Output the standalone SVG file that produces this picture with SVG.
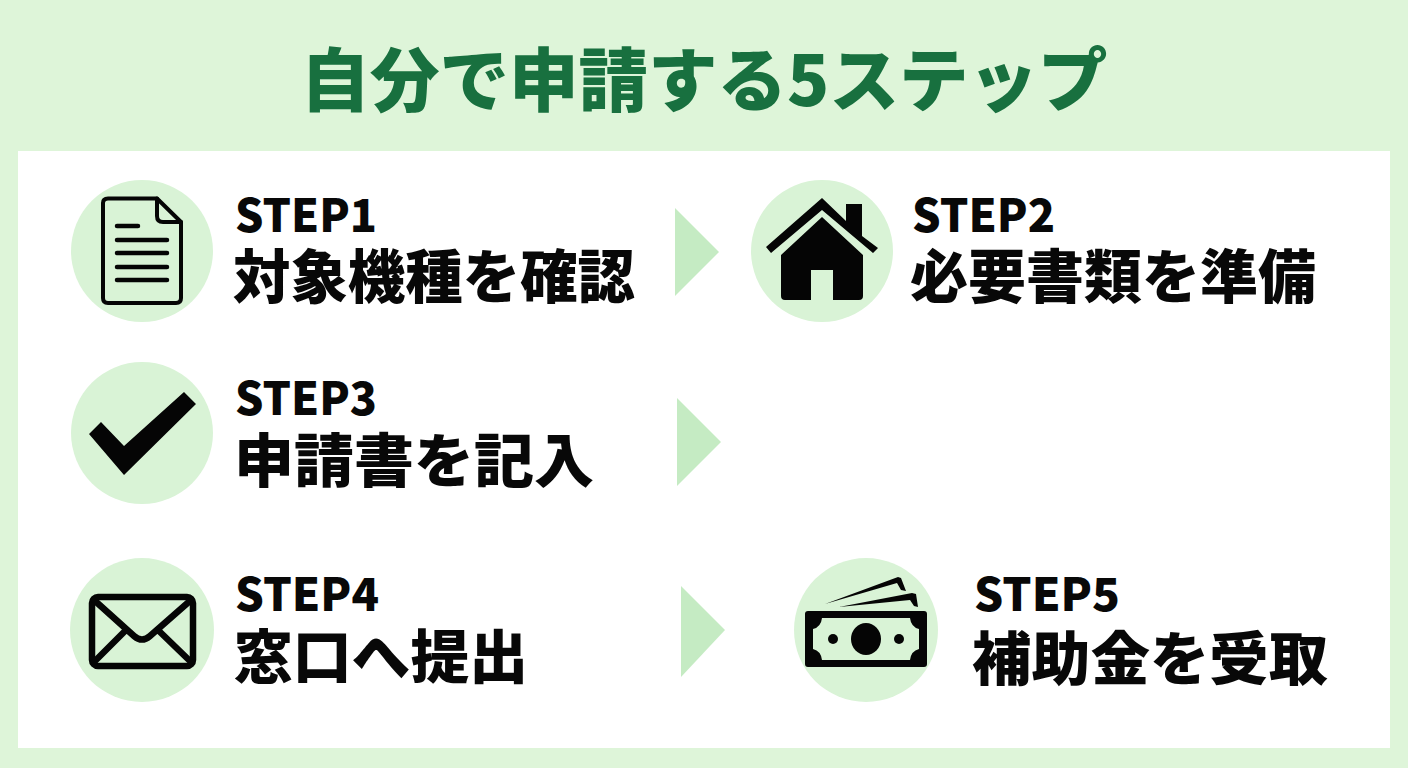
<svg xmlns="http://www.w3.org/2000/svg" width="1408" height="768" viewBox="0 0 1408 768">
<style>
text{font-family:"Noto Sans CJK JP","Noto Sans",sans-serif;font-weight:900;fill:#080808}
.step{font-size:46px}
.lab{font-size:58px}
.c{fill:#d9f3d6}
.a{fill:#c5ebc3}
.ln{fill:none;stroke:#050505;stroke-linecap:round;stroke-linejoin:round}
.f{fill:#050505}
</style>
<rect width="1408" height="768" fill="#def5d9"/>
<rect x="18" y="151" width="1372" height="597" fill="#ffffff"/>
<text id="title" x="704" y="106" text-anchor="middle" font-size="69.5" style="fill:#18703f">自分で申請する5ステップ</text>
<g id="connectors">
<polygon class="a" points="675,208 719,252 675,296"/>
<polygon class="a" points="677,398 721,442 677,486"/>
<polygon class="a" points="681,586 725,630 681,677"/>
</g>
<g id="step1">
<circle class="c" cx="142" cy="251" r="71"/>
<path class="ln" stroke-width="4" d="M108 198.500H157L181 222V298Q181 303 176 303H108Q103 303 103 298V203Q103 198.500 108 198.500Z"/>
<path class="ln" stroke-width="4" d="M157 198.500V216Q157 222 163 222H181"/>
<path class="ln" stroke-width="4.500" d="M117 226H138M117 240H167M117 253H167M117 267H167M117 280H167"/>
<text class="step" x="235" y="232" textLength="142" lengthAdjust="spacingAndGlyphs">STEP1</text>
<text class="lab" x="233" y="298" textLength="402" lengthAdjust="spacingAndGlyphs">対象機種を確認</text>
</g>
<g id="step2">
<circle class="c" cx="822" cy="251" r="71"/>
<path class="f" d="M822 198L846 221V204H862V236L878 248L873 253L822 210L771 253L766 247Z"/>
<path class="f" d="M822 217L863 255V296Q863 300 859 300H833V270H811V300H785Q781 300 781 296V255Z"/>
<text class="step" x="912" y="232" textLength="143" lengthAdjust="spacingAndGlyphs">STEP2</text>
<text class="lab" x="910" y="298" textLength="406" lengthAdjust="spacingAndGlyphs">必要書類を準備</text>
</g>
<g id="step3">
<circle class="c" cx="142" cy="433" r="71"/>
<polygon class="f" points="89,434 101,422 124,446 184,392 196,404 124,475"/>
<text class="step" x="235" y="415" textLength="142" lengthAdjust="spacingAndGlyphs">STEP3</text>
<text class="lab" x="234" y="482" textLength="360" lengthAdjust="spacingAndGlyphs">申請書を記入</text>
</g>
<g id="step4">
<circle class="c" cx="142" cy="630" r="72"/>
<rect class="ln" x="92" y="597" width="101" height="69" rx="6" stroke-width="6.500"/>
<path class="ln" stroke-width="6.500" d="M94 600L134 636Q142 643 150 636L191 600M125 631L94 662M159 631L191 662"/>
<text class="step" x="235" y="611" textLength="144" lengthAdjust="spacingAndGlyphs">STEP4</text>
<text class="lab" x="234" y="678" textLength="294" lengthAdjust="spacingAndGlyphs">窓口へ提出</text>
</g>
<g id="step5">
<circle class="c" cx="866" cy="630" r="72"/>
<path class="f" d="M825 604L898 577L901 578L906 591L901 590L897 583Z"/>
<path class="f" d="M839 607L912 593L916 594L918 607L914 606L910 600Z"/>
<path class="f" fill-rule="evenodd" d="M808 611H924Q927 611 927 614V664Q927 667 924 667H808Q805 667 805 664V614Q805 611 808 611ZM822 618Q821 627 813 629V649Q821 651 822 660H910Q911 651 919 649V629Q911 627 910 618Z"/>
<ellipse class="f" cx="866" cy="639" rx="15" ry="16"/>
<circle class="f" cx="833" cy="639" r="5"/>
<circle class="f" cx="899" cy="639" r="5"/>
<text class="step" x="974" y="611" textLength="146" lengthAdjust="spacingAndGlyphs">STEP5</text>
<text class="lab" x="972" y="680" textLength="356" lengthAdjust="spacingAndGlyphs">補助金を受取</text>
</g>
</svg>
